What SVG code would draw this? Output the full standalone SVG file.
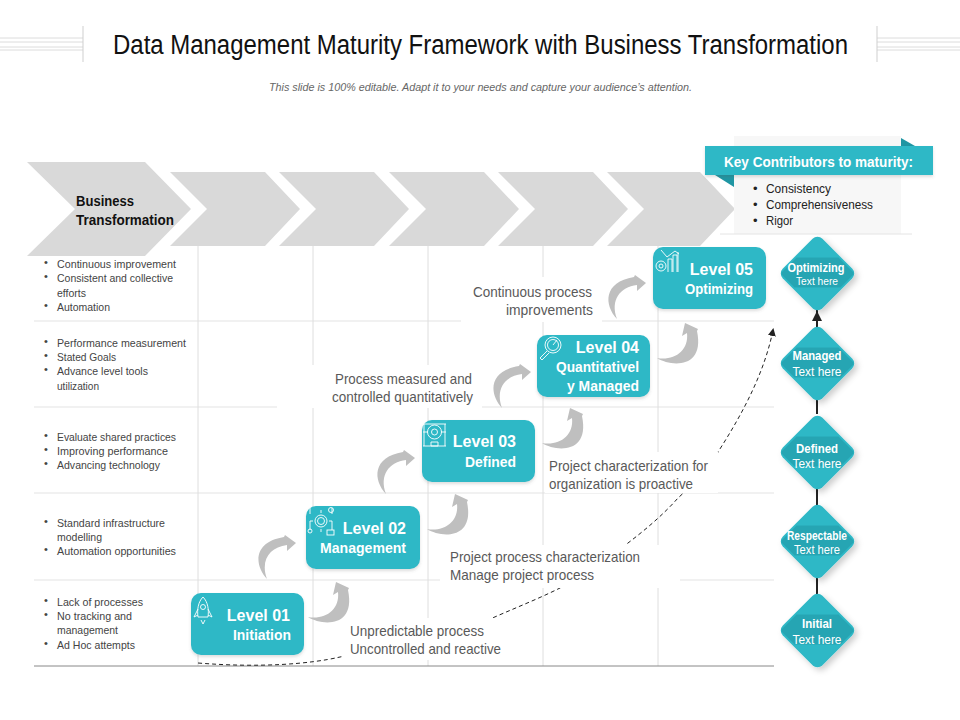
<svg xmlns="http://www.w3.org/2000/svg" width="960" height="720" viewBox="0 0 960 720">
<style>
text{font-family:"Liberation Sans",Arial,sans-serif}
.g{stroke:#e4e4e4;stroke-width:1.2;fill:none}
.d{stroke:#dedede;stroke-width:1;fill:none}
.chev{fill:#d9d9d9}
.box{fill:#2fb8c6}
.lv{font-size:16px;font-weight:bold;fill:#fff;text-anchor:end}
.sub{font-size:14px;font-weight:bold;fill:#fff;text-anchor:end}
.li{font-size:11px;fill:#444}
.an{font-size:14.500px;fill:#595959}
.dt{font-size:12.500px;font-weight:bold;fill:#fff;text-anchor:middle}
.dh{font-size:12.500px;fill:#fff;text-anchor:middle}
.ic{fill:none;stroke:#fff;stroke-width:.9}
.ca{fill:#bfbfbf}
.kc{font-size:13px;fill:#222}
</style>
<defs>
<filter id="sh" x="-30%" y="-30%" width="170%" height="170%"><feDropShadow dx="3" dy="3" stdDeviation="3" flood-color="#000" flood-opacity=".2"/></filter>
<filter id="bs" x="-10%" y="-10%" width="120%" height="125%"><feDropShadow dx="0" dy="2" stdDeviation="1.5" flood-color="#555" flood-opacity=".2"/></filter>
<marker id="ah" markerWidth="9" markerHeight="9" refX="6" refY="4" orient="auto" markerUnits="userSpaceOnUse"><path d="M0 0L8 4L0 8Z" fill="#222"/></marker>
<marker id="ak" markerWidth="11" markerHeight="11" refX="7" refY="5" orient="auto" markerUnits="userSpaceOnUse"><path d="M0 0L10 5L0 10Z" fill="#222"/></marker>
<path id="up" class="ca" d="M267 579C254 565 253 542 284 537L285 535L296 543L287 551L287 545C270 547 260 560 267 579Z"/>
<path id="lo" class="ca" d="M308 617C322 626 356 628 348 590L349 588L336 582L333 595L338 592C340 610 325 620 308 617Z"/>
<g id="dia"><rect x="-28" y="-28" width="56" height="56" rx="7" transform="rotate(45)" fill="#2fb8c6"/><path d="M-36 -1L-21 -16H21L36 -1V1L23 14H-23L-36 1Z" fill="#28a5b3"/></g>
</defs>
<rect width="960" height="720" fill="#fff"/>
<g id="header">
<path d="M0 38H83M0 42H83M0 47H83M0 50H83M877 38H960M877 42H960M877 47H960M877 50H960" stroke="#dcdcdc" stroke-width="1" fill="none"/>
<path d="M83 26V62M877 26V62" stroke="#cfcfcf" stroke-width="1"/>
<text x="113" y="54" font-size="27" fill="#111" textLength="735" lengthAdjust="spacingAndGlyphs">Data Management Maturity Framework with Business Transformation</text>
<text x="269" y="91" font-size="11" font-style="italic" fill="#666" textLength="423" lengthAdjust="spacingAndGlyphs">This slide is 100% editable. Adapt it to your needs and capture your audience’s attention.</text>
</g>
<g id="grid">
<path class="g" d="M34 321H774M34 407H774M34 493H774M34 580H774"/>
<path class="d" d="M198 246V666M313 246V666M428 246V666M543 246V666M658 246V666"/>
<path d="M34 666H774" stroke="#888" stroke-width="1"/>
</g>
<g id="connectors">
<path d="M198 663C260 668 310 664 340 657C400 645 450 637 497 616C520 606 540 598 560 588C600 565 650 530 678 498C700 478 712 465 718 452C745 410 765 370 773 330" fill="none" stroke="#222" stroke-width="1" stroke-dasharray="4 3" marker-end="url(#ah)"/>
<path d="M817 310V414M817 489V505M817 578V594" stroke="#222" stroke-width="2" fill="none"/>
<path d="M817 326V314" stroke="#222" stroke-width="2" fill="none" marker-end="url(#ak)"/>
</g>
<g id="masks" fill="#fff">
<rect x="461" y="277" width="141" height="45"/>
<rect x="277" y="365" width="205" height="43"/>
<rect x="545" y="452" width="173" height="41"/>
<rect x="440" y="545" width="240" height="43"/>
<rect x="342" y="618" width="168" height="42"/>
</g>
<g id="chevrons">
<path class="chev" d="M27 162H145L191 209L145 256H27L75 209Z"/>
<path class="chev" d="M170 172H265L300 209L265 246H170L207 209Z"/>
<path class="chev" d="M279 172H374L409 209L374 246H279L316 209Z"/>
<path class="chev" d="M389 172H484L519 209L484 246H389L426 209Z"/>
<path class="chev" d="M498 172H593L628 209L593 246H498L535 209Z"/>
<path class="chev" d="M607 172H700L735 209L700 246H607L644 209Z"/>
<text x="76" y="206" font-size="14.500" font-weight="bold" fill="#111" textLength="58" lengthAdjust="spacingAndGlyphs">Business</text>
<text x="76" y="225" font-size="14.500" font-weight="bold" fill="#111" textLength="98" lengthAdjust="spacingAndGlyphs">Transformation</text>
</g>
<g id="row-lists" class="li">
<text class="li" x="44" y="266">•</text><text class="li" x="57" y="268" textLength="119" lengthAdjust="spacingAndGlyphs">Continuous improvement</text>
<text class="li" x="44" y="280">•</text><text class="li" x="57" y="282" textLength="116" lengthAdjust="spacingAndGlyphs">Consistent and collective</text>
<text class="li" x="57" y="297" textLength="29" lengthAdjust="spacingAndGlyphs">efforts</text>
<text class="li" x="44" y="309">•</text><text class="li" x="57" y="311" textLength="53" lengthAdjust="spacingAndGlyphs">Automation</text>
<text class="li" x="44" y="345">•</text><text class="li" x="57" y="347" textLength="129" lengthAdjust="spacingAndGlyphs">Performance measurement</text>
<text class="li" x="44" y="359">•</text><text class="li" x="57" y="361" textLength="59" lengthAdjust="spacingAndGlyphs">Stated Goals</text>
<text class="li" x="44" y="373">•</text><text class="li" x="57" y="375" textLength="91" lengthAdjust="spacingAndGlyphs">Advance level tools</text>
<text class="li" x="57" y="390" textLength="42" lengthAdjust="spacingAndGlyphs">utilization</text>
<text class="li" x="44" y="439">•</text><text class="li" x="57" y="441" textLength="119" lengthAdjust="spacingAndGlyphs">Evaluate shared practices</text>
<text class="li" x="44" y="453">•</text><text class="li" x="57" y="455" textLength="111" lengthAdjust="spacingAndGlyphs">Improving performance</text>
<text class="li" x="44" y="467">•</text><text class="li" x="57" y="469" textLength="103" lengthAdjust="spacingAndGlyphs">Advancing technology</text>
<text class="li" x="44" y="525">•</text><text class="li" x="57" y="527" textLength="108" lengthAdjust="spacingAndGlyphs">Standard infrastructure</text>
<text class="li" x="57" y="541" textLength="45" lengthAdjust="spacingAndGlyphs">modelling</text>
<text class="li" x="44" y="553">•</text><text class="li" x="57" y="555" textLength="119" lengthAdjust="spacingAndGlyphs">Automation opportunities</text>
<text class="li" x="44" y="604">•</text><text class="li" x="57" y="606" textLength="86" lengthAdjust="spacingAndGlyphs">Lack of processes</text>
<text class="li" x="44" y="618">•</text><text class="li" x="57" y="620" textLength="75" lengthAdjust="spacingAndGlyphs">No tracking and</text>
<text class="li" x="57" y="634" textLength="61" lengthAdjust="spacingAndGlyphs">management</text>
<text class="li" x="44" y="647">•</text><text class="li" x="57" y="649" textLength="78" lengthAdjust="spacingAndGlyphs">Ad Hoc attempts</text>
</g>
<g id="annotations" class="an">
<text class="an" x="473" y="297" textLength="119" lengthAdjust="spacingAndGlyphs">Continuous process</text>
<text class="an" x="506" y="315" textLength="87" lengthAdjust="spacingAndGlyphs">improvements</text>
<text class="an" x="335" y="384" textLength="137" lengthAdjust="spacingAndGlyphs">Process measured and</text>
<text class="an" x="332" y="402" textLength="141" lengthAdjust="spacingAndGlyphs">controlled quantitatively</text>
<text class="an" x="549" y="471" textLength="159" lengthAdjust="spacingAndGlyphs">Project characterization for</text>
<text class="an" x="549" y="489" textLength="144" lengthAdjust="spacingAndGlyphs">organization is proactive</text>
<text class="an" x="450" y="562" textLength="190" lengthAdjust="spacingAndGlyphs">Project process characterization</text>
<text class="an" x="450" y="580" textLength="144" lengthAdjust="spacingAndGlyphs">Manage project process</text>
<text class="an" x="350" y="636" textLength="134" lengthAdjust="spacingAndGlyphs">Unpredictable process</text>
<text class="an" x="350" y="654" textLength="151" lengthAdjust="spacingAndGlyphs">Uncontrolled and reactive</text>
</g>
<g id="curved-arrows">
<use href="#up"/><use href="#up" transform="translate(119 -85)"/><use href="#up" transform="translate(235 -171)"/><use href="#up" transform="translate(350 -260)"/>
<use href="#lo"/><use href="#lo" transform="translate(119 -88)"/><use href="#lo" transform="translate(234 -174)"/><use href="#lo" transform="translate(349 -259)"/>
</g>
<g id="level-01">
<rect class="box" x="191" y="593" width="113" height="62" rx="10" filter="url(#bs)"/>
<path class="ic" d="M203 597C208 602 209 610 208 617H198C197 610 198 602 203 597ZM198 609L194 617L198 615M208 609L212 617L208 615M201 620L203 624L205 620"/><circle class="ic" cx="203" cy="607" r="2.500"/>
<text class="lv" x="290" y="621">Level 01</text>
<text class="sub" x="291" y="640" textLength="58" lengthAdjust="spacingAndGlyphs">Initiation</text>
</g>
<g id="level-02">
<rect class="box" x="306" y="506" width="114" height="63" rx="10" filter="url(#bs)"/>
<circle class="ic" cx="321" cy="521" r="6"/><circle class="ic" cx="321" cy="521" r="3.500"/><path class="ic" d="M321 513V510M321 529V532M313 521H310M329 521H332M310 521V530M332 521V530M310 514V508M332 514V508"/><rect class="ic" x="327" y="530" width="7" height="5"/><circle class="ic" cx="310" cy="531" r="2"/><circle class="ic" cx="331" cy="510" r="2.500"/>
<text class="lv" x="406" y="534">Level 02</text>
<text class="sub" x="406" y="553" textLength="86" lengthAdjust="spacingAndGlyphs">Management</text>
</g>
<g id="level-03">
<rect class="box" x="422" y="420" width="113" height="62" rx="10" filter="url(#bs)"/>
<path class="ic" d="M423 424H446M423 446H446M424 424V446M445 424V446M423 432H428M441 432H446M431 442H438V446H431Z"/><circle class="ic" cx="434.500" cy="432" r="7"/><circle class="ic" cx="434.500" cy="432" r="3"/>
<text class="lv" x="516" y="447">Level 03</text>
<text class="sub" x="516" y="467" textLength="51" lengthAdjust="spacingAndGlyphs">Defined</text>
</g>
<g id="level-04">
<rect class="box" x="537" y="335" width="113" height="62" rx="10" filter="url(#bs)"/>
<circle class="ic" cx="553" cy="345" r="8"/><circle class="ic" cx="553" cy="345" r="5.500"/><path class="ic" d="M553 345L557 340M547 351L540 358L542 360L549 353"/>
<text class="lv" x="639" y="353">Level 04</text>
<text class="sub" x="639" y="372" textLength="83" lengthAdjust="spacingAndGlyphs">Quantitativel</text>
<text class="sub" x="639" y="391" textLength="72" lengthAdjust="spacingAndGlyphs">y Managed</text>
</g>
<g id="level-05">
<rect class="box" x="653" y="247" width="113" height="62" rx="10" filter="url(#bs)"/>
<path class="ic" d="M668 272V259H672V272M673 272V255H677V272M678 272V252M661 250L667 257L675 251L679 254"/><circle class="ic" cx="661" cy="266" r="5"/><circle class="ic" cx="661" cy="266" r="2"/>
<text class="lv" x="753" y="275">Level 05</text>
<text class="sub" x="753" y="294" textLength="68" lengthAdjust="spacingAndGlyphs">Optimizing</text>
</g>
<g id="key-contributors">
<rect x="734" y="136" width="167" height="98" fill="#f7f7f7"/>
<path d="M720 234H912" stroke="#e4e4e4" stroke-width="1"/>
<path d="M901 138L915 146H901ZM715 175H734V187Z" fill="#1f96a3"/>
<rect x="705" y="146" width="228" height="29" fill="#2fb8c6" filter="url(#bs)"/>
<text x="724" y="167" font-size="14.500" font-weight="bold" fill="#fff" textLength="189" lengthAdjust="spacingAndGlyphs">Key Contributors to maturity:</text>
<text class="kc" x="753" y="193">•</text><text class="kc" x="766" y="193" textLength="65" lengthAdjust="spacingAndGlyphs">Consistency</text>
<text class="kc" x="753" y="209">•</text><text class="kc" x="766" y="209" textLength="107" lengthAdjust="spacingAndGlyphs">Comprehensiveness</text>
<text class="kc" x="753" y="225">•</text><text class="kc" x="766" y="225" textLength="27" lengthAdjust="spacingAndGlyphs">Rigor</text>
</g>
<g id="d-optimizing"><use href="#dia" transform="translate(817.500 273.500)" filter="url(#sh)"/><text class="dt" x="816" y="272" textLength="57" lengthAdjust="spacingAndGlyphs">Optimizing</text><text class="dh" x="817" y="285" style="font-size:11px" textLength="42" lengthAdjust="spacingAndGlyphs">Text here</text></g>
<g id="d-managed"><use href="#dia" transform="translate(817.500 363.500)" filter="url(#sh)"/><text class="dt" x="817" y="360" textLength="49" lengthAdjust="spacingAndGlyphs">Managed</text><text class="dh" x="817" y="376" textLength="49" lengthAdjust="spacingAndGlyphs">Text here</text></g>
<g id="d-defined"><use href="#dia" transform="translate(817.500 452.500)" filter="url(#sh)"/><text class="dt" x="817" y="453" textLength="42" lengthAdjust="spacingAndGlyphs">Defined</text><text class="dh" x="817" y="468" textLength="49" lengthAdjust="spacingAndGlyphs">Text here</text></g>
<g id="d-respectable"><use href="#dia" transform="translate(817.500 541.500)" filter="url(#sh)"/><text class="dt" x="817" y="540" textLength="60" lengthAdjust="spacingAndGlyphs">Respectable</text><text class="dh" x="817" y="554" textLength="46" lengthAdjust="spacingAndGlyphs">Text here</text></g>
<g id="d-initial"><use href="#dia" transform="translate(817.500 630.500)" filter="url(#sh)"/><text class="dt" x="817" y="628" textLength="30" lengthAdjust="spacingAndGlyphs">Initial</text><text class="dh" x="817" y="644" textLength="49" lengthAdjust="spacingAndGlyphs">Text here</text></g>
</svg>
